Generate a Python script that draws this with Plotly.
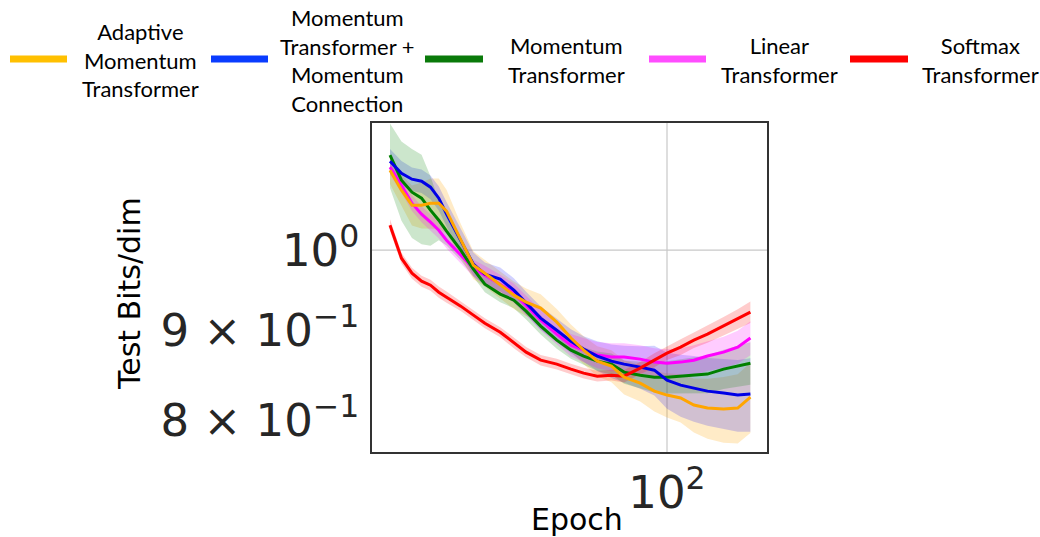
import plotly.graph_objects as go

epochs = [10, 11, 12, 13, 14, 15, 16, 18, 20, 22, 25, 28, 31, 35, 40, 45, 50, 56, 63,
          70, 80, 90, 100, 112, 125, 140, 160, 180, 200]

adaptive_mean = [1.1109, 1.0820, 1.0609, 1.0609, 1.0637, 1.0637, 1.0526, 1.0132, 0.9805, 0.9702,
                 0.9550, 0.9426, 0.9340, 0.9267, 0.9097, 0.8909, 0.8769, 0.8643, 0.8587, 0.8463,
                 0.8397, 0.8309, 0.8266, 0.8234, 0.8158, 0.8126, 0.8115, 0.8126, 0.8244]
adaptive_std = [0.020, 0.022, 0.028, 0.032, 0.035, 0.035, 0.030, 0.022, 0.018, 0.017, 0.017, 0.017,
                0.017, 0.017, 0.016, 0.016, 0.016, 0.017, 0.018, 0.019, 0.020, 0.022, 0.024, 0.026,
                0.029, 0.032, 0.035, 0.037, 0.038]

momconn_mean = [1.1241, 1.1065, 1.0978, 1.0949, 1.0863, 1.0707, 1.0485, 1.0119, 0.9818, 0.9689,
                0.9626, 0.9488, 0.9327, 0.9146, 0.9002, 0.8873, 0.8781, 0.8701, 0.8643, 0.8609,
                0.8575, 0.8541, 0.8430, 0.8375, 0.8342, 0.8309, 0.8288, 0.8266, 0.8277]
momconn_std = [0.018, 0.018, 0.017, 0.017, 0.017, 0.017, 0.017, 0.016, 0.015, 0.015, 0.015, 0.015,
               0.014, 0.014, 0.014, 0.014, 0.015, 0.017, 0.019, 0.021, 0.024, 0.028, 0.031, 0.034,
               0.036, 0.037, 0.038, 0.039, 0.040]

momentum_mean = [1.1330, 1.0964, 1.0792, 1.0707, 1.0540, 1.0402, 1.0253, 1.0000, 0.9753, 0.9563,
                 0.9439, 0.9364, 0.9230, 0.9050, 0.8885, 0.8769, 0.8701, 0.8643, 0.8609, 0.8519,
                 0.8485, 0.8463, 0.8463, 0.8474, 0.8485, 0.8497, 0.8553, 0.8587, 0.8620]
momentum_std = [0.048, 0.057, 0.063, 0.063, 0.048, 0.027, 0.019, 0.013, 0.010, 0.010, 0.010, 0.010,
                0.010, 0.010, 0.010, 0.010, 0.010, 0.011, 0.012, 0.013, 0.015, 0.017, 0.018, 0.019,
                0.020, 0.021, 0.022, 0.023, 0.024]

linear_mean = [1.1153, 1.0892, 1.0637, 1.0485, 1.0375, 1.0266, 1.0132, 0.9934, 0.9766, 0.9677,
               0.9563, 0.9451, 0.9303, 0.9121, 0.8955, 0.8827, 0.8769, 0.8712, 0.8689, 0.8689,
               0.8666, 0.8632, 0.8620, 0.8632, 0.8654, 0.8701, 0.8746, 0.8804, 0.8909]
linear_std = [0.011, 0.011, 0.011, 0.011, 0.011, 0.011, 0.011, 0.011, 0.011, 0.012, 0.012, 0.012,
              0.012, 0.012, 0.012, 0.013, 0.014, 0.015, 0.016, 0.016, 0.016, 0.016, 0.016, 0.016,
              0.017, 0.017, 0.018, 0.019, 0.020]

softmax_mean = [1.0334, 0.9895, 0.9702, 0.9601, 0.9550, 0.9463, 0.9401, 0.9291, 0.9182, 0.9085,
                0.8978, 0.8850, 0.8746, 0.8654, 0.8609, 0.8553, 0.8508, 0.8474, 0.8485, 0.8474,
                0.8564, 0.8654, 0.8735, 0.8804, 0.8885, 0.8955, 0.9050, 0.9134, 0.9218]
softmax_std = [0.008, 0.007, 0.007, 0.007, 0.007, 0.007, 0.007, 0.006, 0.006, 0.006, 0.006, 0.006,
               0.006, 0.006, 0.006, 0.006, 0.006, 0.006, 0.006, 0.007, 0.007, 0.008, 0.008, 0.009,
               0.009, 0.010, 0.011, 0.012, 0.013]

series_names = ["Adaptive<br>Momentum<br>Transformer",
                "Momentum<br>Transformer +<br>Momentum<br>Connection",
                "Momentum<br>Transformer",
                "Linear<br>Transformer",
                "Softmax<br>Transformer"]

y_tick_vals = [0.8, 0.9, 1.0]
y_tick_text = ["8 × 10<sup>−1</sup>", "9 × 10<sup>−1</sup>", "10<sup>0</sup>"]
x_tick_vals = [100]
x_tick_text = ["10<sup>2</sup>"]

line_colors = ["#FFA500", "#0000E6", "#008000", "#FF00FF", "#FF0000"]
band_colors = ["rgba(255,165,0,0.22)", "rgba(0,0,255,0.18)", "rgba(0,128,0,0.20)",
               "rgba(255,0,255,0.20)", "rgba(255,0,0,0.20)"]
legend_colors = ["#FFC000", "#0A3CFF", "#0A7A0A", "#FF4DFF", "#FF0000"]

means = [adaptive_mean, momconn_mean, momentum_mean, linear_mean, softmax_mean]
stds = [adaptive_std, momconn_std, momentum_std, linear_std, softmax_std]

fig = go.Figure()

for m, s, bc in zip(means, stds, band_colors):
    upper = [a + b for a, b in zip(m, s)]
    lower = [a - b for a, b in zip(m, s)]
    fig.add_trace(go.Scatter(x=epochs + epochs[::-1], y=upper + lower[::-1], fill="toself",
                             fillcolor=bc, line=dict(width=0), mode="lines",
                             hoverinfo="skip", showlegend=False))

draw_order = [3, 2, 1, 4, 0]
for i in draw_order:
    fig.add_trace(go.Scatter(x=epochs, y=means[i], mode="lines",
                             line=dict(color=line_colors[i], width=3),
                             name=series_names[i].replace("<br>", " "), showlegend=False))

W, H = 1040, 537
L, R, T, B = 372, 767, 123, 452
pw, ph = R - L, B - T


def px(xp):
    return (xp - L) / pw


def py(yp):
    return (B - yp) / ph


fig.update_layout(
    width=W, height=H, autosize=False,
    margin=dict(l=L, r=W - R, t=T, b=H - B),
    paper_bgcolor="white", plot_bgcolor="white",
    font=dict(family="DejaVu Sans", color="#262626"),
    showlegend=False,
)

fig.update_xaxes(type="log", range=[0.935, 2.361], tickvals=x_tick_vals, ticktext=x_tick_text,
                 showgrid=False, zeroline=False, ticks="", ticklabelstandoff=0,
                 tickfont=dict(family="DejaVu Sans", size=45, color="#262626"),
                 showline=True, mirror=True, linecolor="#333333", linewidth=1.5)
fig.update_yaxes(type="log", range=[-0.1152, 0.0726], tickvals=y_tick_vals, ticktext=y_tick_text,
                 showgrid=False, zeroline=False, ticks="", ticklabelstandoff=2,
                 tickfont=dict(family="DejaVu Sans", size=45, color="#262626"),
                 showline=True, mirror=True, linecolor="#333333", linewidth=1.5)

# grid lines at major decades
fig.add_shape(type="line", xref="paper", yref="y", x0=0, x1=1, y0=1.0, y1=1.0,
              line=dict(color="#c8c8c8", width=1.2), layer="below")
fig.add_shape(type="line", xref="x", yref="paper", x0=100, x1=100, y0=0, y1=1,
              line=dict(color="#c8c8c8", width=1.2), layer="below")

# axis titles
fig.add_annotation(text="Epoch", xref="paper", yref="paper", x=px(577), y=py(519),
                   showarrow=False, font=dict(family="DejaVu Sans", size=30, color="black"),
                   xanchor="center", yanchor="middle")
fig.add_annotation(text="Test Bits/dim", xref="paper", yref="paper", x=px(129), y=py(294),
                   showarrow=False, textangle=-90,
                   font=dict(family="DejaVu Sans", size=30, color="black"),
                   xanchor="center", yanchor="middle")

# legend (line samples + centered labels)
sample_x = [(10, 67), (211, 268), (425, 483), (649, 706), (850, 908)]
label_x = [140, 347, 566, 779, 980]
for (x0, x1), lx, col, name in zip(sample_x, label_x, legend_colors, series_names):
    fig.add_shape(type="line", xref="paper", yref="paper", x0=px(x0), x1=px(x1),
                  y0=py(59), y1=py(59), line=dict(color=col, width=7))
    fig.add_annotation(text=name, xref="paper", yref="paper", x=px(lx), y=py(60),
                       showarrow=False, align="center", xanchor="center", yanchor="middle",
                       font=dict(family="Lato", size=22, color="black"))

fig.write_html("out.html", config={"displayModeBar": False},
               post_script="document.body.style.margin='0';document.body.style.overflow='hidden';")
